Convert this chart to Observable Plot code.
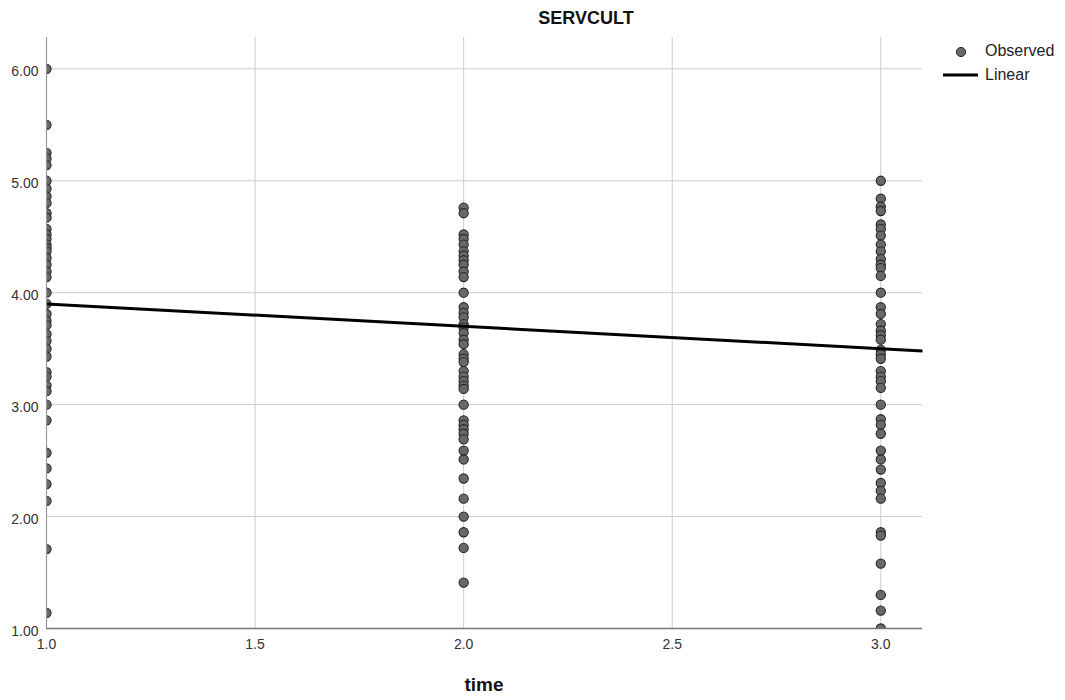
<!DOCTYPE html>
<html>
<head>
<meta charset="utf-8">
<script src="https://cdn.jsdelivr.net/npm/d3@7"></script>
<script src="https://cdn.jsdelivr.net/npm/@observablehq/plot@0.6"></script>
<style>
  body { margin: 0; background: #fff; }
  #wrap { position: relative; width: 1065px; height: 700px; font-family: "Liberation Sans", Arial, sans-serif; }
  #wrap svg { position: absolute; left: 0; top: 0; }
  .title { position: absolute; left: 586px; top: 8px; transform: translateX(-50%); font-weight: bold; font-size: 18px; color: #111; }
  .xlabel { position: absolute; left: 484px; top: 674px; transform: translateX(-50%); font-weight: bold; font-size: 19px; color: #111; }
  .leg { position: absolute; font-size: 16px; color: #222; }
</style>
</head>
<body>
<div id="wrap">
  <div class="title">SERVCULT</div>
  <div class="xlabel">time</div>
  <svg width="1065" height="700" style="pointer-events:none;z-index:2" id="legsvg"></svg>
  <div class="leg" style="left:985px; top:42px;">Observed</div>
  <div class="leg" style="left:985px; top:66px;">Linear</div>
</div>
<script>
// Observed values at each time point
const timePoints = [1, 2, 3];
const t1Values = [6.0, 5.5, 5.25, 5.2, 5.14, 5.0, 4.93, 4.86, 4.8, 4.71, 4.67, 4.57, 4.52, 4.48, 4.43, 4.4, 4.37, 4.31, 4.25, 4.19, 4.14, 4.0, 3.9, 3.81, 3.75, 3.71, 3.63, 3.57, 3.5, 3.43, 3.29, 3.25, 3.17, 3.12, 3.0, 2.86, 2.57, 2.43, 2.29, 2.14, 1.71, 1.14];
const t2Values = [4.76, 4.71, 4.52, 4.48, 4.43, 4.37, 4.33, 4.29, 4.25, 4.19, 4.14, 4.0, 3.87, 3.82, 3.78, 3.72, 3.69, 3.64, 3.58, 3.54, 3.45, 3.41, 3.38, 3.3, 3.25, 3.21, 3.17, 3.14, 3.0, 2.86, 2.82, 2.78, 2.74, 2.69, 2.59, 2.51, 2.34, 2.16, 2.0, 1.86, 1.72, 1.41];
const t3Values = [5.0, 4.84, 4.77, 4.73, 4.61, 4.57, 4.51, 4.43, 4.37, 4.3, 4.25, 4.22, 4.15, 4.0, 3.87, 3.81, 3.72, 3.66, 3.62, 3.58, 3.49, 3.45, 3.41, 3.3, 3.25, 3.21, 3.15, 3.0, 2.87, 2.82, 2.74, 2.59, 2.51, 2.42, 2.3, 2.23, 2.16, 1.86, 1.83, 1.58, 1.3, 1.16, 1.0];
// Linear fit endpoints
const fitX = [1.0, 3.1];
const fitY = [3.90, 3.48];
// Axis ticks
const xTicks = [1.0, 1.5, 2.0, 2.5, 3.0];
const yTicks = [1, 2, 3, 4, 5, 6];

const observed = [
  ...t1Values.map(v => ({time: timePoints[0], value: v})),
  ...t2Values.map(v => ({time: timePoints[1], value: v})),
  ...t3Values.map(v => ({time: timePoints[2], value: v}))
];
const fit = fitX.map((x, i) => ({time: x, value: fitY[i]}));

const mL = 46, mR = 143, mT = 37, mB = 72, W = 1065, H = 700;

const chart = Plot.plot({
  width: W,
  height: H,
  marginLeft: mL,
  marginRight: mR,
  marginTop: mT,
  marginBottom: mB,
  style: {fontFamily: "Liberation Sans, Arial, sans-serif", fontSize: "14px", background: "white", color: "#333"},
  x: {domain: [1, 3.1], ticks: xTicks, label: null},
  y: {domain: [1, 6.28], ticks: yTicks, label: null},
  marks: [
    Plot.ruleX(xTicks.slice(1), {stroke: "#cccccc", strokeWidth: 1}),
    Plot.ruleY(yTicks.slice(1), {stroke: "#cccccc", strokeWidth: 1}),
    Plot.dot(observed, {x: "time", y: "value", r: 4.6, fill: "#686868", stroke: "#252525", strokeWidth: 1.1}),
    Plot.line(fit, {x: "time", y: "value", stroke: "#000", strokeWidth: 3}),
    Plot.ruleX([1], {stroke: "#999999", strokeWidth: 1.2}),
    Plot.ruleY([1], {stroke: "#777777", strokeWidth: 1.5}),
    Plot.axisX({ticks: xTicks, tickFormat: d3.format(".1f"), tickSize: 0, tickPadding: 11, fontSize: 14, label: null}),
    Plot.axisY({ticks: yTicks, tickFormat: d3.format(".2f"), tickSize: 0, tickPadding: 8, fontSize: 14, dy: 3, label: null})
  ]
});
const wrap = document.getElementById("wrap");
wrap.insertBefore(chart, wrap.firstChild);

// clip dots and fit line to the plotting frame
const svg = d3.select(chart.tagName.toLowerCase() === "svg" ? chart : chart.querySelector("svg"));
svg.append("defs").append("clipPath").attr("id", "frameclip")
  .append("rect").attr("x", mL).attr("y", mT).attr("width", W - mL - mR).attr("height", H - mT - mB);
svg.selectAll("g[aria-label='dot'], g[aria-label='line']").attr("clip-path", "url(#frameclip)");

// legend symbols
const leg = d3.select("#legsvg");
leg.append("circle").attr("cx", 961).attr("cy", 52).attr("r", 4.6).attr("fill", "#686868").attr("stroke", "#252525");
leg.append("line").attr("x1", 943).attr("x2", 978).attr("y1", 75).attr("y2", 75).attr("stroke", "#000").attr("stroke-width", 3);
</script>
</body>
</html>
